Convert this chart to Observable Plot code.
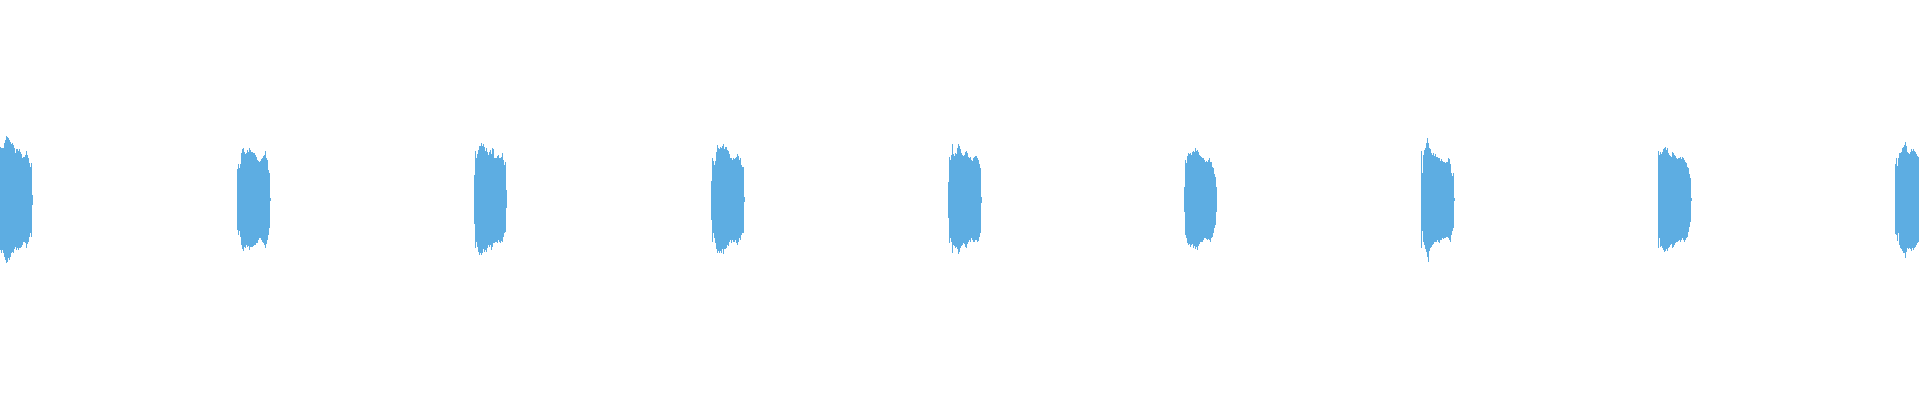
<!DOCTYPE html>
<html>
<head>
<meta charset="utf-8">
<script src="https://cdn.jsdelivr.net/npm/d3@7"></script>
<script src="https://cdn.jsdelivr.net/npm/@observablehq/plot@0.6"></script>
<style>
  html, body { margin: 0; padding: 0; background: #ffffff; }
  #chart svg { display: block; }
</style>
</head>
<body>
<div id="chart"></div>
<script>
// Note onsets (seconds) and waveform peak envelopes (max / min per bin) for each note
const onsets = [0, 1, 2, 3, 4, 5, 6, 7, 8];
const binsPerSecond = 236.9;
const duration = 8.105;

const top1 = [0.265,0.258,0.258,0.258,0.283,0.300,0.320,0.313,0.312,0.300,0.292,0.280,0.283,0.275,0.258,0.237,0.255,0.255,0.245,0.255,0.242,0.228,0.212,0.217,0.215,0.225,0.247,0.225,0.208,0.183,0.167,0.187,0.025];
const bot1 = [-0.250,-0.263,-0.250,-0.263,-0.283,-0.300,-0.317,-0.308,-0.292,-0.300,-0.283,-0.267,-0.258,-0.267,-0.245,-0.233,-0.250,-0.242,-0.250,-0.238,-0.242,-0.233,-0.225,-0.212,-0.208,-0.217,-0.242,-0.222,-0.208,-0.183,-0.167,-0.183,-0.025];

const top2 = [0.155,0.178,0.158,0.178,0.233,0.255,0.262,0.238,0.228,0.233,0.250,0.238,0.258,0.250,0.238,0.238,0.233,0.233,0.225,0.217,0.200,0.195,0.188,0.195,0.205,0.208,0.222,0.225,0.245,0.212,0.200,0.150,0.133,0.012];
const bot2 = [-0.150,-0.175,-0.155,-0.183,-0.225,-0.245,-0.255,-0.233,-0.242,-0.225,-0.233,-0.228,-0.250,-0.233,-0.233,-0.233,-0.228,-0.225,-0.225,-0.217,-0.217,-0.200,-0.192,-0.188,-0.200,-0.208,-0.217,-0.225,-0.238,-0.222,-0.200,-0.175,-0.142,-0.005];

const top3 = [0.125,0.245,0.208,0.228,0.250,0.272,0.272,0.283,0.272,0.278,0.267,0.245,0.262,0.238,0.225,0.238,0.250,0.228,0.258,0.255,0.208,0.208,0.208,0.222,0.225,0.208,0.208,0.217,0.233,0.200,0.175,0.188,0.050];
const bot3 = [-0.122,-0.242,-0.208,-0.233,-0.258,-0.275,-0.267,-0.275,-0.267,-0.245,-0.258,-0.250,-0.258,-0.238,-0.225,-0.233,-0.225,-0.250,-0.233,-0.217,-0.217,-0.208,-0.208,-0.217,-0.200,-0.208,-0.217,-0.205,-0.208,-0.183,-0.167,-0.158,-0.042];

const top4 = [0.095,0.208,0.195,0.175,0.195,0.242,0.275,0.262,0.255,0.267,0.262,0.272,0.278,0.255,0.267,0.267,0.250,0.245,0.228,0.208,0.212,0.200,0.208,0.205,0.212,0.217,0.228,0.222,0.200,0.208,0.175,0.167,0.167,0.017];
const bot4 = [-0.100,-0.208,-0.167,-0.192,-0.217,-0.245,-0.267,-0.255,-0.267,-0.255,-0.267,-0.245,-0.272,-0.245,-0.245,-0.238,-0.225,-0.228,-0.212,-0.200,-0.217,-0.200,-0.208,-0.212,-0.200,-0.217,-0.225,-0.212,-0.192,-0.200,-0.175,-0.167,-0.167,-0.012];

const top5 = [0.092,0.217,0.200,0.225,0.278,0.228,0.222,0.233,0.228,0.258,0.278,0.272,0.255,0.233,0.225,0.222,0.225,0.238,0.245,0.233,0.217,0.208,0.217,0.200,0.195,0.208,0.217,0.222,0.222,0.208,0.200,0.178,0.158,0.015];
const bot5 = [-0.092,-0.217,-0.192,-0.212,-0.267,-0.225,-0.228,-0.242,-0.233,-0.245,-0.272,-0.262,-0.242,-0.228,-0.225,-0.217,-0.222,-0.233,-0.238,-0.222,-0.208,-0.200,-0.208,-0.192,-0.200,-0.212,-0.212,-0.200,-0.200,-0.208,-0.205,-0.183,-0.167,-0.015];

const top6 = [0.067,0.200,0.183,0.222,0.233,0.228,0.233,0.225,0.242,0.245,0.238,0.258,0.245,0.250,0.242,0.225,0.222,0.217,0.208,0.212,0.200,0.192,0.195,0.188,0.200,0.208,0.192,0.188,0.167,0.162,0.128,0.117,0.067];
const bot6 = [-0.062,-0.175,-0.192,-0.217,-0.225,-0.222,-0.233,-0.225,-0.222,-0.238,-0.228,-0.245,-0.233,-0.250,-0.228,-0.222,-0.212,-0.208,-0.208,-0.200,-0.192,-0.192,-0.195,-0.200,-0.195,-0.200,-0.208,-0.192,-0.183,-0.167,-0.142,-0.125,-0.058];

const top7 = [0.245,0.133,0.225,0.250,0.258,0.283,0.308,0.283,0.262,0.255,0.233,0.225,0.233,0.222,0.228,0.217,0.217,0.208,0.212,0.195,0.205,0.195,0.192,0.188,0.183,0.188,0.192,0.208,0.205,0.178,0.133,0.122,0.133,0.012];
const bot7 = [-0.238,-0.155,-0.208,-0.225,-0.245,-0.258,-0.283,-0.308,-0.255,-0.238,-0.233,-0.225,-0.222,-0.212,-0.208,-0.208,-0.200,-0.208,-0.217,-0.200,-0.200,-0.192,-0.195,-0.192,-0.188,-0.183,-0.183,-0.188,-0.200,-0.208,-0.175,-0.155,-0.142,-0.005];

const top8 = [0.245,0.225,0.238,0.228,0.242,0.255,0.262,0.267,0.250,0.258,0.233,0.225,0.222,0.217,0.238,0.233,0.225,0.222,0.208,0.205,0.212,0.208,0.217,0.205,0.217,0.208,0.200,0.188,0.183,0.167,0.158,0.128,0.112,0.012];
const bot8 = [-0.242,-0.192,-0.233,-0.228,-0.242,-0.250,-0.262,-0.255,-0.245,-0.255,-0.238,-0.233,-0.225,-0.222,-0.238,-0.233,-0.225,-0.217,-0.208,-0.212,-0.205,-0.200,-0.208,-0.200,-0.192,-0.200,-0.212,-0.200,-0.192,-0.183,-0.158,-0.133,-0.108,-0.005];

const top9 = [0.178,0.208,0.172,0.208,0.233,0.233,0.242,0.262,0.267,0.275,0.292,0.272,0.242,0.233,0.228,0.238,0.255,0.245,0.255,0.245,0.238,0.228,0.222,0.217];
const bot9 = [-0.172,-0.175,-0.205,-0.167,-0.225,-0.238,-0.245,-0.255,-0.267,-0.267,-0.288,-0.258,-0.242,-0.245,-0.238,-0.245,-0.255,-0.242,-0.250,-0.238,-0.233,-0.225,-0.217,-0.212];

const tops = [top1, top2, top3, top4, top5, top6, top7, top8, top9];
const bottoms = [bot1, bot2, bot3, bot4, bot5, bot6, bot7, bot8, bot9];

const dt = 1 / binsPerSecond;
const bins = [];
tops.forEach((arr, k) => {
  const n = Math.min(arr.length, bottoms[k].length);
  for (let i = 0; i < n; i++) {
    bins.push({t0: onsets[k] + i * dt, t1: onsets[k] + (i + 1) * dt, hi: arr[i], lo: bottoms[k][i]});
  }
});

const chart = Plot.plot({
  width: 1920,
  height: 400,
  margin: 0,
  style: {background: "#ffffff"},
  x: {domain: [0, duration], axis: null},
  y: {domain: [-1, 1], axis: null},
  marks: [
    Plot.rect(bins, {x1: "t0", x2: "t1", y1: "lo", y2: "hi", fill: "#5DADE2", shapeRendering: "crispEdges"})
  ]
});
document.getElementById("chart").appendChild(chart);
</script>
</body>
</html>
